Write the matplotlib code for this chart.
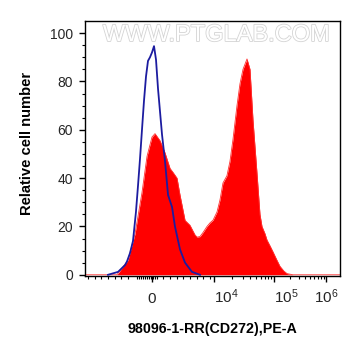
import numpy as np
import matplotlib
matplotlib.use("Agg")
import matplotlib.pyplot as plt
import matplotlib.patheffects as pe

plt.rcParams['font.family'] = ['Liberation Sans', 'DejaVu Sans']
plt.rcParams['mathtext.fontset'] = 'custom'
plt.rcParams['mathtext.rm'] = 'Liberation Sans'
plt.rcParams['mathtext.it'] = 'Liberation Sans'

# ---- data (fluorescence intensity, relative cell number) ----
red_x = [-12100, -3430, -2040, -1350, -765, -375, 0, 224, 606, 1008, 1450, 1730,
         2150, 2490, 3140, 3880, 4770, 5180, 5820, 6560, 7650, 8600, 9640, 11240,
         12620, 14160, 16500, 18550, 20800, 24260, 27200, 30540, 35600, 39950,
         44800, 52200, 58500, 63200, 70900, 76500, 85800, 96200, 114200, 130400,
         155700, 177900, 231800, 1860000]
red_y = [0, 0, 6, 17, 34, 49, 57, 58.4, 55.5, 50.5, 44, 42.4,
         40, 33, 22.5, 20.5, 16.5, 15.6, 15.8, 17.5, 20, 21.5, 22.6, 26,
         31, 38, 41, 47, 56, 70, 79, 85, 89.3, 85,
         64, 42, 25, 20, 17, 14.4, 12, 9.5, 6, 3.5,
         1.5, 0.5, 0, 0]

blue_x = [-4970, -3270, -2370, -2150, -1830, -1540, -1270, -1090, -925,
          -765, -606, -452, -300, -150, 0, 150, 300, 452, 765, 1008, 1270, 1640,
          1930, 2490, 3140, 4220, 5820]
blue_y = [0, 1.2, 4, 5.5, 9, 14, 26, 37, 48,
          60, 72, 82, 88.5, 90, 92, 94.6, 89, 77, 58, 47, 33, 28,
          20, 10.5, 5, 1.2, 0]

x_tick_vals = [0, 1e4, 1e5, 1e6]
x_tick_labels = ['0', r'$\mathregular{10^4}$', r'$\mathregular{10^5}$', r'$\mathregular{10^6}$']
y_tick_vals = [0, 20, 40, 60, 80, 100]

# ---- biexponential-like display scale ----
A = 2000.0
_u4, _u5, _u6 = np.arcsinh(1e4 / A), np.arcsinh(1e5 / A), np.arcsinh(1e6 / A)
UK = np.array([-12.0, 0.0, _u4, _u5, _u6, 14.0])
PK = np.array([-12.0 * 26.8, 0.0, 62.0, 122.0, 174.0, 174.0 + (14.0 - _u6) * 22.58])


def fwd(x):
    x = np.asarray(x, dtype=float)
    return np.interp(np.arcsinh(x / A), UK, PK)


def inv(p):
    p = np.asarray(p, dtype=float)
    return A * np.sinh(np.interp(p, PK, UK))


fig = plt.figure(figsize=(3.61, 3.56), dpi=100)
ax = fig.add_axes([85 / 361, 80 / 356, 255 / 361, 255 / 356])
ax.set_xscale('function', functions=(fwd, inv))

ax.fill_between(red_x, red_y, 0, color='#ff0000', lw=0, zorder=2)
ax.plot(red_x, red_y, color='#ff3030', lw=0.6, zorder=2)
ax.plot(blue_x, blue_y, color='#1c1ca0', lw=1.3, zorder=3)

ax.set_xlim(float(inv(-67)), float(inv(188)))
ax.set_ylim(-0.5, 105)

# ticks
ax.set_xticks(x_tick_vals)
ax.set_xticklabels(x_tick_labels)
minor_px = [-64, -57, -51, -44, -37, -31, -24] + list(range(-15, 6, 2)) + \
           [11, 18, 25, 31, 38, 45, 51, 58]
minor = list(inv(np.array(minor_px, dtype=float)))
minor += [k * 1e4 for k in range(2, 10)] + [k * 1e5 for k in range(2, 10)]
ax.set_xticks(minor, minor=True)

ax.set_yticks(y_tick_vals)
ax.set_yticks(np.arange(0, 105, 5), minor=True)

ax.tick_params(axis='both', which='major', direction='out', length=4.5, width=1,
               labelsize=10, labelcolor='#262626', color='black')
ax.tick_params(axis='both', which='minor', direction='out', length=2.2, width=0.8,
               color='black')
ax.tick_params(axis='x', which='major', pad=15)
ax.tick_params(axis='y', which='major', pad=4)
for i, lbl in enumerate(ax.get_xticklabels()):
    lbl.set_va('baseline')
    lbl.set_fontsize(11)
    if i in (1, 2):
        lbl.set_ha('left')

for s in ax.spines.values():
    s.set_linewidth(1)
    s.set_color('black')

ax.set_ylabel('Relative cell number', fontsize=10.6, fontweight='bold')
ax.yaxis.label.set_va('center')
ax.yaxis.set_label_coords(-0.227, 0.52)
ax.set_xlabel('98096-1-RR(CD272),PE-A', fontsize=10.3, fontweight='bold')
ax.xaxis.set_label_coords(0.5, -0.208)
ax.xaxis.label.set_va('center')

ax.text(0.514, 0.945, 'WWW.PTGLAB.COM', transform=ax.transAxes, ha='center',
        va='center', fontsize=17, color='white', zorder=1,
        path_effects=[pe.withStroke(linewidth=1.2, foreground='#d4d4d4')])

fig.savefig('out.png', dpi=100)
